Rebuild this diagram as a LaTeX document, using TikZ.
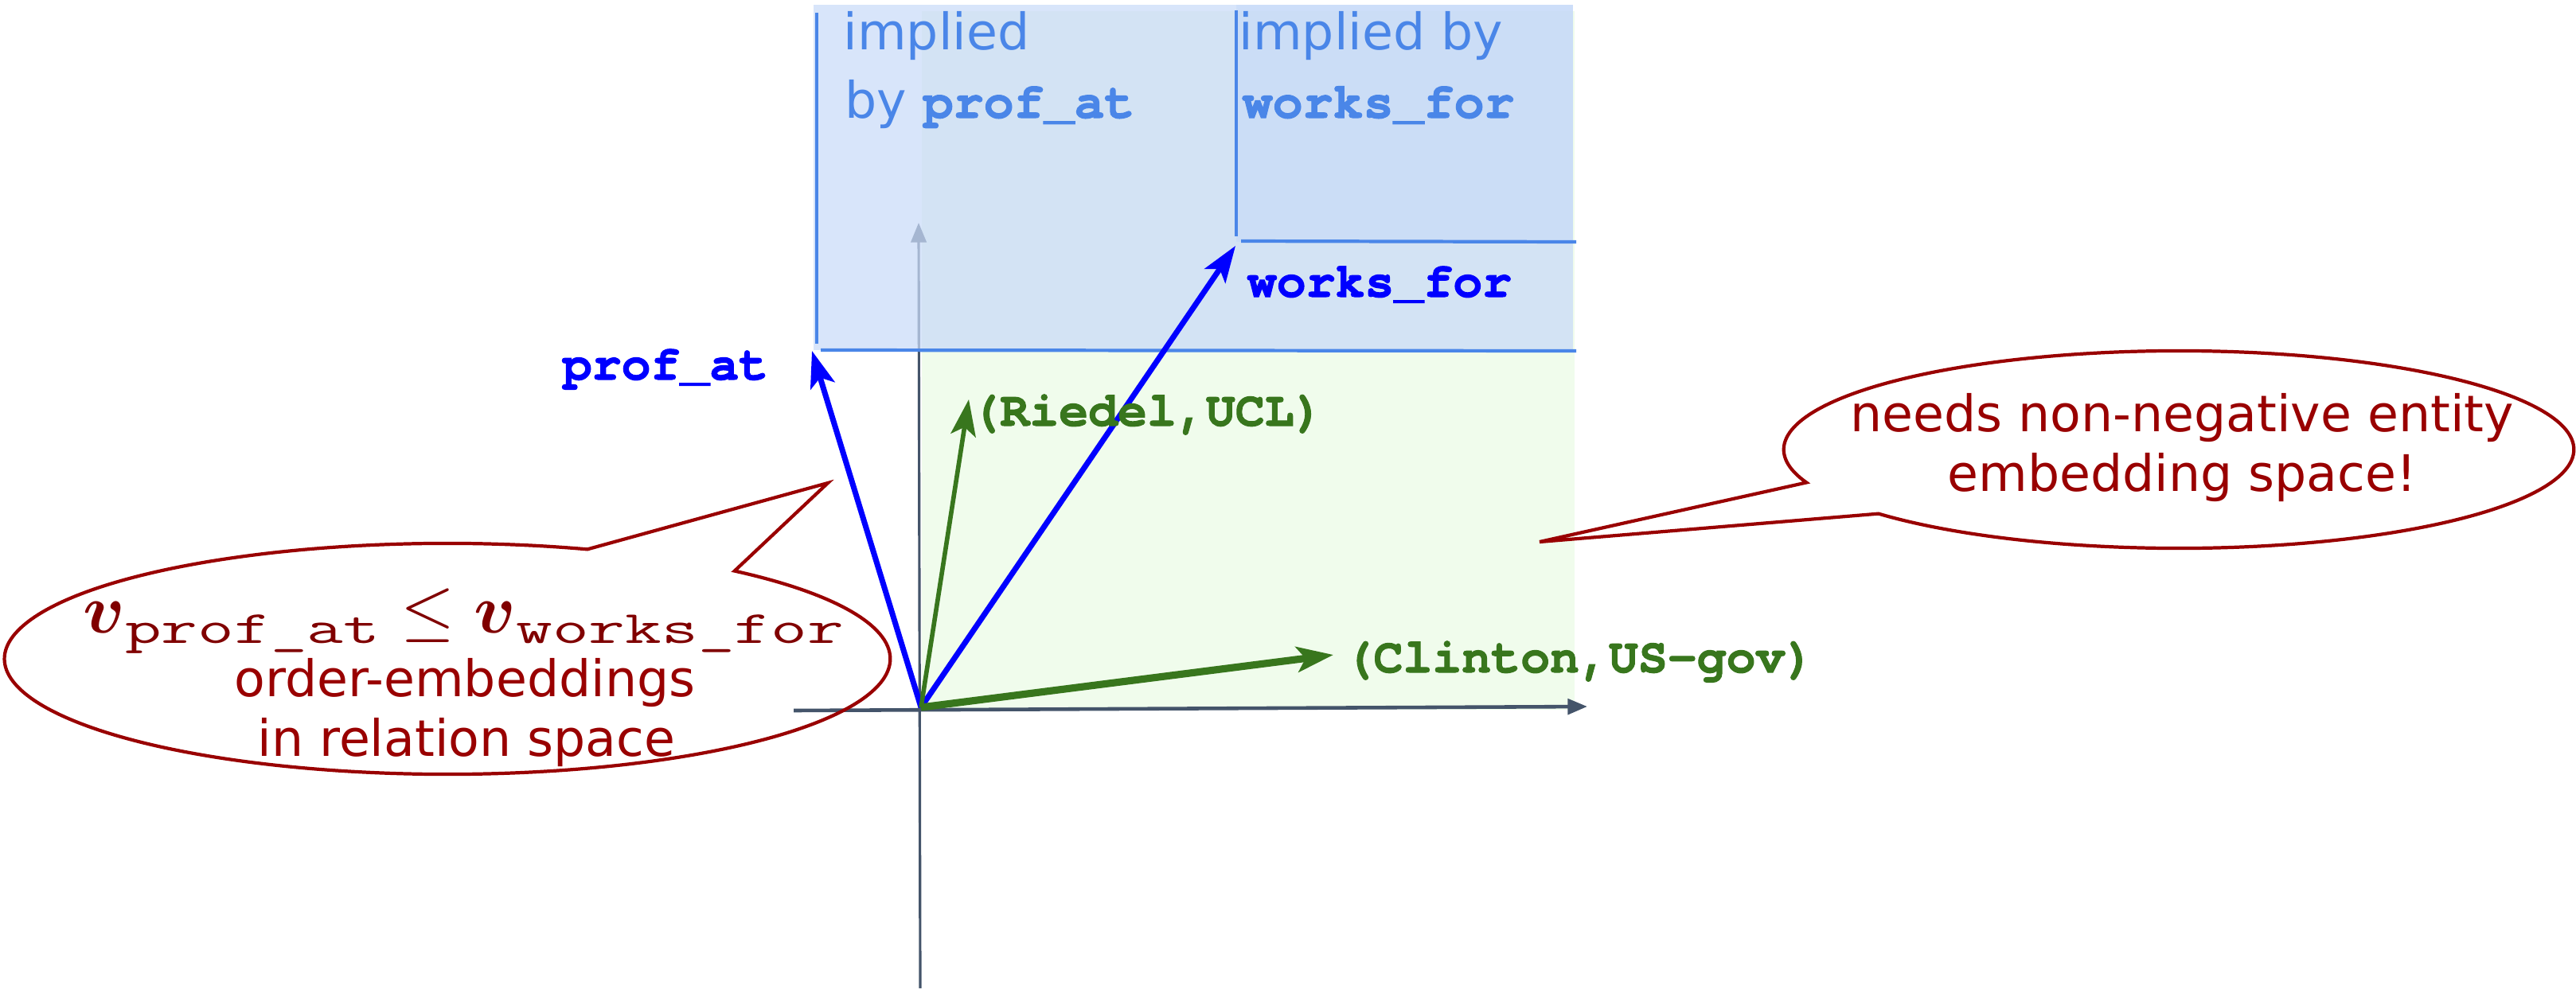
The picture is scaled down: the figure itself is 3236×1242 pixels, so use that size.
\documentclass[tikz,border=0pt]{standalone}
\usepackage{amsmath}
\usepackage{amssymb}
\usepackage{graphicx}
\usepackage{fontspec}
\setmainfont{DejaVu Sans}
\newfontfamily\codefont{texgyrecursor-regular.otf}[BoldFont=texgyrecursor-bold.otf, BoldFeatures={FakeBold=1.6}]
\usetikzlibrary{calc, shapes.callouts, arrows.meta}

\definecolor{axisgray}{HTML}{44546A}
\definecolor{regionblue}{HTML}{4A86E8}
\definecolor{regionfill}{HTML}{C9DBF8}
\definecolor{posgreen}{HTML}{F0FCEC}
\definecolor{vecgreen}{HTML}{38761D}
\definecolor{bubred}{HTML}{990000}
\definecolor{mathred}{HTML}{800000}

\newcommand{\relsub}[1]{\scalebox{1.53}[1]{\fontsize{16.5}{18}\selectfont\ttfamily #1}}

\begin{document}
\begin{tikzpicture}[x=0.01cm, y=-0.01cm,
    vec/.style={-{Stealth[length=13pt, width=9pt, inset=3pt]}},
    axis/.style={axisgray, -{Triangle[length=7pt, width=5.5pt]}},
    code/.style={font=\fontsize{17.5}{20}\selectfont\codefont\bfseries, inner sep=0pt, anchor=base},
    note/.style={font=\fontsize{18}{22}\selectfont, inner sep=0pt, anchor=base},
    bubble/.style={ellipse callout, draw=bubred, line width=1.2pt, inner sep=0pt}]
  \useasboundingbox (0,0) rectangle (3236,1242);

  \coordinate (O) at (1157,889);
  \coordinate (xstart) at (997,893);
  \coordinate (xend) at (1994,888);
  \coordinate (ystart) at (1156,1242);
  \coordinate (yend) at (1154,280);
  \coordinate (profat) at (1020,441);
  \coordinate (worksfor) at (1552,309);
  \coordinate (riedel) at (1217,502);
  \coordinate (clinton) at (1675,823);

  % non-negative quadrant
  \fill[posgreen] (1158,14) rectangle (1978,892);
  \draw[axis, line width=1.3pt] (xstart) -- (xend);
  \draw[axis, line width=0.9pt] (ystart) -- (yend);

  % implied regions
  \fill[regionfill, fill opacity=0.73] (1022,6) rectangle (1976,440);
  \fill[regionfill, fill opacity=0.73] (1553,6) rectangle (1976,304);
  \draw[regionblue, line width=1pt] (1026,16) -- (1026,432);
  \draw[regionblue, line width=1.2pt] (1031,440) -- (1980,441);
  \draw[regionblue, line width=1pt] (1553,13) -- (1553,297);
  \draw[regionblue, line width=1.2pt] (1559,303) -- (1980,304);

  \node[note, regionblue, anchor=base west] (impA) at (1059,62) {implied};
  \node[note, regionblue, anchor=base west] (byA) at (1061,148) {by};
  \node[code, regionblue, anchor=base west, font=\fontsize{18}{20}\selectfont\codefont\bfseries] (impAcode) at (1159,148) {prof\_at};
  \node[note, regionblue, anchor=base west] (impB) at (1556,62) {implied by};
  \node[code, regionblue, anchor=base west, font=\fontsize{18}{20}\selectfont\codefont\bfseries] (impBcode) at (1560,148) {works\_for};

  % vectors
  \draw[vec, blue, line width=2pt] (O) -- (profat);
  \draw[vec, blue, line width=2pt] (O) -- (worksfor);
  \draw[vec, vecgreen, line width=1.6pt] (O) -- (riedel);
  \draw[vec, vecgreen, line width=2.6pt] (O) -- (clinton);

  \node[code, blue] (lprof) at (836,477) {prof\_at};
  \node[code, blue] (lworks) at (1733,373) {works\_for};
  \node[code, vecgreen] (lriedel) at (1441,535) {(Riedel,UCL)};
  \node[code, vecgreen] (lclinton) at (1984,845) {(Clinton,US-gov)};

  % callouts
  \coordinate (tipL) at (1040,607);
  \coordinate (tipR) at (1934,681);
  \node[bubble, minimum width=11.12cm, minimum height=2.9cm,
    callout absolute pointer={(tipL)}, callout pointer arc=22] (bubrel) at (562,828) {};
  \node[bubble, minimum width=9.92cm, minimum height=2.48cm,
    callout absolute pointer={(tipR)}, callout pointer arc=21] (bubent) at (2737,565) {};

  \node[anchor=base, inner sep=0pt, text=mathred, font=\fontsize{24.88}{30}\selectfont] (ineq) at (583,795)
    {$\boldsymbol{v}_{\relsub{prof\_at}} \leq \boldsymbol{v}_{\relsub{works\_for}}$};
  \node[note, bubred] (relA) at (584,875) {order-embeddings};
  \node[note, bubred] (relB) at (586,950) {in relation space};
  \node[note, bubred] (entA) at (2741,542) {needs non-negative entity};
  \node[note, bubred] (entB) at (2741,617) {embedding space!};
\end{tikzpicture}
\end{document}
